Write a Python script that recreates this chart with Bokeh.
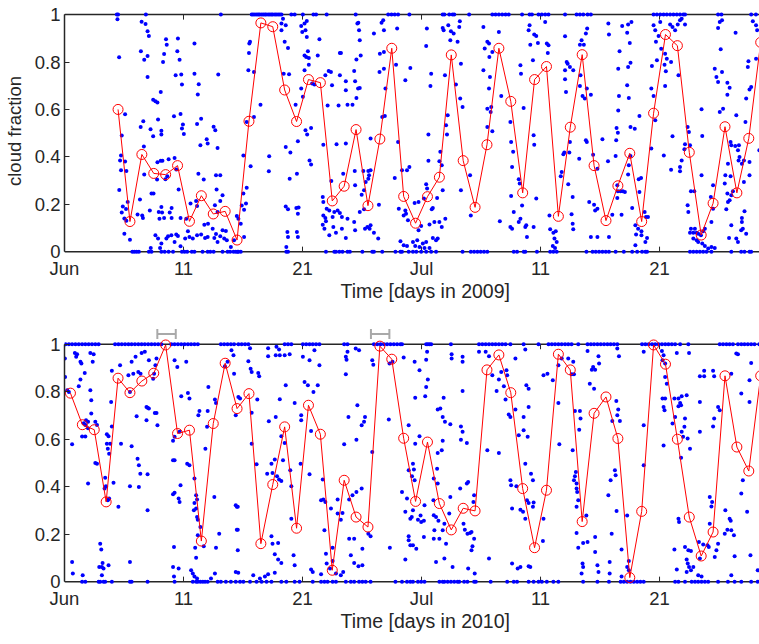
import math
from bokeh.plotting import figure
from bokeh.models import (FixedTicker, Whisker, ColumnDataSource, Title, Range1d,
                          TeeHead, Span)
from bokeh.layouts import column
from bokeh.embed import file_html
from bokeh.resources import INLINE

# ---------------- data (days since 1 June, 00:00) ----------------
x_ticks = [0, 10, 20, 30, 40, 50]
x_tick_labels = ["Jun", "11", "21", "Jul", "11", "21"]
y_ticks = [0, 0.2, 0.4, 0.6, 0.8, 1]
y_tick_labels = ["0", "0.2", "0.4", "0.6", "0.8", "1"]

# daily means 2009 (red circles), first day = 5 June
mean09_first_day = 4
mean09 = [0.60, 0.127, 0.41, 0.33, 0.325, 0.363, 0.128, 0.236, 0.159, 0.17,
          0.049, 0.55, 0.965, 0.949, 0.682, 0.549, 0.726, 0.713, 0.214, 0.276,
          0.515, 0.194, 0.475, 0.858, 0.233, 0.12, 0.232, 0.314, 0.83, 0.384,
          0.187, 0.451, 0.858, 0.634, 0.248, 0.726, 0.781, 0.149, 0.525, 0.831,
          0.363, 0.131, 0.278, 0.415, 0.127, 0.584, 0.916, 0.869, 0.419, 0.07,
          0.204, 0.527, 0.248, 0.478, 0.883]

# daily means 2010 (red circles), first day = 1 June
mean10_first_day = 0
mean10 = [0.794, 0.661, 0.640, 0.336, 0.857, 0.796, 0.845, 0.878, 0.997, 0.624,
          0.638, 0.171, 0.666, 0.92, 0.729, 0.792, 0.16, 0.409, 0.652, 0.225,
          0.743, 0.621, 0.048, 0.427, 0.272, 0.23, 0.992, 0.937, 0.604, 0.338,
          0.588, 0.329, 0.218, 0.309, 0.298, 0.892, 0.955, 0.796, 0.392, 0.143,
          0.385, 0.958, 0.892, 0.253, 0.709, 0.778, 0.603, 0.017, 0.296, 0.997,
          0.916, 0.6, 0.272, 0.108, 0.209, 0.867, 0.567, 0.466, 0.867]

# individual observations exactly overcast (1) / clear (0), 2009
ones09 = [4.4, 4.5, 6.84, 13.14, 15.73, 15.85, 16.0, 16.15, 16.28, 16.4, 16.56,
          16.7, 16.84, 16.95, 17.11, 17.25, 17.39, 17.5, 17.67, 17.8, 17.95,
          18.1, 18.23, 19.06, 19.34, 20.03, 20.92, 21.14, 22.03, 24.47, 27.2,
          27.48, 27.75, 28.03, 28.98, 31.78, 31.92, 32.33, 32.61, 32.75, 34.0,
          35.95, 36.22, 36.5, 36.78, 37.06, 37.33, 38.45, 39.08, 39.28, 39.83,
          40.11, 40.39, 40.67, 42.06, 43.03, 43.31, 43.59, 43.95, 44.23, 49.5,
          49.78, 50.06, 50.34, 50.61, 50.89, 51.17, 51.45, 51.72, 52.0, 52.14,
          54.92, 55.2, 57.7, 58.1]
zeros09 = [5.7, 5.87, 6.06, 6.25, 7.09, 7.31, 8.14, 8.42, 8.75, 9.12, 9.87,
           10.09, 10.31, 10.7, 10.92, 11.6, 12.03, 12.25, 12.53, 13.28, 13.7,
           13.92, 14.2, 14.39, 14.53, 14.61, 14.81, 18.64, 18.78, 21.97, 22.67,
           22.81, 23.09, 23.36, 23.78, 23.98, 25.03, 25.86, 26.0, 26.7, 27.81,
           28.23, 28.36, 28.92, 29.28, 29.56, 29.97, 30.39, 30.81, 31.22, 33.45,
           34.14, 34.42, 34.7, 34.97, 35.25, 35.53, 37.75, 38.03, 38.59, 38.72,
           39.7, 40.81, 41.08, 41.36, 43.86, 44.37, 44.64, 44.92, 45.2, 45.48,
           45.75, 46.31, 47.0, 47.7, 48.12, 48.53, 48.81, 48.95, 52.56, 52.84,
           53.12, 53.39, 53.67, 53.95, 54.36, 56.03, 56.86, 57.14, 57.56, 57.7]

# other individual observations 2009: (day, cloud fraction)
obs09_a = [(4.45, 0.98), (4.59, 0.82), (5.09, 0.58), (4.81, 0.49), (4.75, 0.406),
           (4.67, 0.385), (5.09, 0.38), (4.75, 0.343), (5.2, 0.34), (4.6, 0.26),
           (4.9, 0.19), (4.81, 0.165), (5.17, 0.18), (5.31, 0.21), (5.03, 0.14),
           (5.2, 0.13), (5.03, 0.076), (5.5, 0.05), (6.48, 0.97), (6.81, 0.96),
           (6.98, 0.93), (7.09, 0.91), (6.42, 0.845), (6.7, 0.81), (6.98, 0.825),
           (6.98, 0.737), (6.62, 0.55), (6.4, 0.526), (6.67, 0.444), (6.7, 0.326),
           (6.34, 0.22), (6.14, 0.157), (6.53, 0.153), (6.59, 0.142), (7.17, 0.174),
           (7.31, 0.245), (7.48, 0.245), (7.45, 0.641), (7.64, 0.634), (7.81, 0.629),
           (8.09, 0.674), (7.86, 0.557), (7.23, 0.516), (7.45, 0.487), (8.14, 0.51),
           (8.14, 0.494), (7.81, 0.377), (8.09, 0.384), (8.23, 0.384), (7.78, 0.304),
           (7.92, 0.167), (7.98, 0.139), (8.2, 0.165), (8.37, 0.142), (8.14, 0.188),
           (8.53, 0.896), (8.59, 0.873), (8.37, 0.834), (8.28, 0.8), (8.75, 0.39),
           (8.64, 0.318), (8.48, 0.305), (9.25, 0.395), (9.2, 0.571), (9.34, 0.744),
           (9.53, 0.899), (9.48, 0.845), (9.67, 0.81), (9.81, 0.747), (9.87, 0.705),
           (9.75, 0.581), (9.59, 0.262), (9.39, 0.347), (9.0, 0.184), (8.84, 0.165),
           (9.0, 0.142), (9.75, 0.142), (9.95, 0.536), (10.03, 0.496), (9.87, 0.52),
           (10.92, 0.878), (10.92, 0.75), (11.28, 0.706), (11.2, 0.663), (11.48, 0.561),
           (11.14, 0.539), (11.42, 0.449), (11.95, 0.474), (12.03, 0.456), (11.25, 0.329),
           (11.7, 0.304), (10.59, 0.203), (11.06, 0.214), (11.14, 0.193), (10.23, 0.139),
           (12.53, 0.527), (12.67, 0.512), (12.86, 0.437), (12.73, 0.322), (13.09, 0.322),
           (12.78, 0.262), (13.09, 0.214), (13.28, 0.238), (12.64, 0.196), (12.86, 0.167),
           (11.75, 0.114), (12.06, 0.118), (12.45, 0.097), (13.28, 0.09), (13.56, 0.087),
           (13.09, 0.065), (14.48, 0.15), (12.92, 0.747), (7.64, 0.069), (7.86, 0.055),
           (8.14, 0.034), (8.56, 0.055), (8.7, 0.065), (8.98, 0.069), (9.39, 0.072),
           (9.53, 0.066), (9.25, 0.041), (9.75, 0.023), (10.14, 0.055), (10.37, 0.086),
           (10.5, 0.062), (10.78, 0.055), (11.14, 0.069), (11.48, 0.072), (11.81, 0.058),
           (12.03, 0.062), (12.59, 0.058), (12.73, 0.075), (12.86, 0.041), (13.42, 0.055),
           (13.64, 0.048), (13.98, 0.02), (14.25, 0.048), (8.03, 0.015), (7.25, 0.015)]
obs09_b = [(15.59, 0.885), (15.53, 0.878), (15.5, 0.838), (15.92, 0.758), (15.45, 0.765),
           (15.92, 0.568), (15.31, 0.547), (15.03, 0.406), (15.64, 0.36), (15.31, 0.27),
           (15.03, 0.245), (15.25, 0.203), (14.89, 0.195), (15.09, 0.177), (14.61, 0.139),
           (14.81, 0.118), (15.09, 0.062), (18.23, 0.962), (18.36, 0.983), (18.59, 0.955),
           (18.23, 0.934), (18.5, 0.885), (18.78, 0.859), (18.42, 0.75), (18.87, 0.748),
           (16.47, 0.62), (17.2, 0.402), (17.17, 0.339), (18.59, 0.442), (18.98, 0.418),
           (18.92, 0.308), (19.53, 0.329), (19.61, 0.466), (19.42, 0.62), (18.59, 0.191),
           (18.78, 0.179), (19.48, 0.184), (19.67, 0.186), (19.61, 0.16), (18.73, 0.083),
           (18.78, 0.062), (19.53, 0.083), (19.61, 0.062), (18.64, 0.02), (19.89, 0.952),
           (20.17, 0.962), (20.36, 0.973), (20.25, 0.934), (19.98, 0.927), (20.36, 0.906),
           (21.42, 0.896), (20.45, 0.845), (20.17, 0.828), (20.31, 0.821), (20.53, 0.817),
           (20.17, 0.765), (20.53, 0.789), (21.28, 0.828), (19.89, 0.688), (20.03, 0.653),
           (20.39, 0.494), (20.25, 0.512), (20.72, 0.522), (20.59, 0.385), (20.72, 0.368),
           (20.81, 0.709), (21.0, 0.705), (22.2, 0.762), (22.39, 0.758), (21.92, 0.744),
           (21.75, 0.451), (22.11, 0.617), (22.48, 0.702), (23.14, 0.838), (23.23, 0.838),
           (23.14, 0.744), (23.03, 0.617), (22.86, 0.453), (22.42, 0.298), (23.42, 0.329),
           (23.64, 0.719), (23.64, 0.681), (24.34, 0.762), (24.42, 0.719), (24.53, 0.648),
           (24.67, 0.688), (24.81, 0.69), (23.78, 0.62), (24.2, 0.62), (24.69, 0.966),
           (24.61, 0.962), (24.75, 0.934), (24.81, 0.892), (24.89, 0.828), (24.53, 0.811),
           (23.64, 0.456), (24.39, 0.34), (25.11, 0.34), (25.31, 0.294), (25.17, 0.259),
           (25.53, 0.308), (25.53, 0.34), (25.72, 0.477), (26.0, 0.92), (26.64, 0.966),
           (26.78, 0.976), (26.84, 0.934), (26.5, 0.835), (26.84, 0.842), (26.47, 0.758),
           (26.84, 0.772), (26.97, 0.688), (26.7, 0.568), (26.92, 0.572), (27.86, 0.789),
           (27.95, 0.941), (29.06, 0.775), (28.64, 0.723), (28.03, 0.463), (28.36, 0.343),
           (28.78, 0.343), (28.98, 0.357), (27.75, 0.311), (25.72, 0.343), (25.59, 0.322),
           (24.42, 0.28), (26.42, 0.198), (24.81, 0.167), (25.17, 0.179), (24.97, 0.24),
           (24.34, 0.125), (24.42, 0.09), (21.7, 0.231), (21.75, 0.21), (22.03, 0.181),
           (22.25, 0.174), (22.67, 0.167), (22.95, 0.174), (23.14, 0.163), (21.75, 0.153),
           (21.92, 0.142), (21.97, 0.128), (21.7, 0.114), (21.84, 0.097), (22.53, 0.146),
           (23.31, 0.146), (23.78, 0.139), (22.59, 0.104), (23.31, 0.097), (23.64, 0.058),
           (22.25, 0.069), (22.81, 0.08), (25.25, 0.097), (25.45, 0.104), (25.64, 0.097),
           (25.72, 0.111), (26.0, 0.08), (26.36, 0.055), (28.09, 0.181), (28.5, 0.153),
           (28.7, 0.16), (28.86, 0.132), (28.64, 0.174), (28.23, 0.044), (28.5, 0.027),
           (28.78, 0.024)]
obs09_c = [(30.45, 0.941), (30.39, 0.868), (30.81, 0.751), (30.75, 0.699), (30.58, 0.494),
           (30.58, 0.383), (30.39, 0.284), (30.47, 0.266), (30.2, 0.224), (29.75, 0.21),
           (29.42, 0.205), (30.95, 0.184), (30.86, 0.179), (31.31, 0.226), (30.67, 0.115),
           (29.97, 0.108), (29.75, 0.09), (31.08, 0.125), (30.95, 0.058), (31.22, 0.048),
           (31.36, 0.055), (31.5, 0.125), (31.7, 0.104), (31.58, 0.421), (31.7, 0.364),
           (31.5, 0.381), (31.78, 0.259), (32.0, 0.139), (32.06, 0.533), (32.14, 0.494),
           (32.2, 0.575), (31.97, 0.744), (31.78, 0.944), (31.86, 0.934), (32.25, 0.955),
           (32.47, 0.93), (32.42, 0.892), (32.7, 0.92), (33.03, 0.885), (33.22, 0.972),
           (33.17, 0.948), (33.31, 0.793), (32.89, 0.705), (33.25, 0.646), (33.45, 0.61),
           (34.08, 0.322), (33.31, 0.259), (34.14, 0.153), (35.2, 0.948), (35.31, 0.857),
           (35.67, 0.878), (35.53, 0.885), (35.7, 0.821), (35.95, 0.842), (35.2, 0.765),
           (35.75, 0.737), (35.67, 0.688), (35.53, 0.603), (35.86, 0.61), (35.81, 0.589),
           (35.53, 0.526), (35.95, 0.508), (36.5, 0.927), (36.7, 0.657), (36.58, 0.128),
           (37.47, 0.547), (37.53, 0.463), (37.7, 0.421), (37.61, 0.357), (37.53, 0.235),
           (37.75, 0.167), (37.47, 0.104), (37.61, 0.097), (38.31, 0.786), (38.36, 0.751),
           (38.58, 0.606), (38.17, 0.305), (38.25, 0.287), (38.45, 0.195), (38.31, 0.139),
           (38.17, 0.125), (38.72, 0.104), (38.86, 0.062), (38.8, 0.111), (39.42, 0.491),
           (39.47, 0.451), (39.08, 0.955), (39.0, 0.934), (39.14, 0.873), (39.47, 0.916),
           (39.64, 0.91), (39.78, 0.88), (39.36, 0.807), (39.64, 0.224), (39.42, 0.104),
           (40.39, 0.969), (40.53, 0.878), (40.67, 0.871), (40.61, 0.838), (40.75, 0.153),
           (40.81, 0.094), (41.08, 0.08), (41.28, 0.086), (41.17, 0.055), (41.36, 0.041),
           (41.03, 0.024), (41.22, 0.015), (41.7, 0.318), (41.78, 0.336), (41.92, 0.411),
           (42.0, 0.418), (42.33, 0.284), (42.42, 0.418), (42.47, 0.463), (42.7, 0.231),
           (42.61, 0.158), (42.7, 0.118), (42.75, 0.094), (42.06, 0.909), (42.2, 0.8),
           (42.28, 0.793), (42.06, 0.765), (42.14, 0.674), (42.06, 0.727), (42.47, 0.779),
           (42.75, 0.765), (43.31, 0.873), (43.45, 0.892), (43.64, 0.873), (43.36, 0.744),
           (43.31, 0.699), (43.53, 0.657), (43.72, 0.646), (43.81, 0.47), (43.81, 0.92),
           (43.92, 0.941), (43.25, 0.392), (29.28, 0.041), (29.47, 0.024), (29.64, 0.048),
           (29.83, 0.02), (30.11, 0.034), (30.25, 0.015), (30.39, 0.041), (30.67, 0.015)]
obs09_d = [(43.89, 0.688), (44.23, 0.662), (43.89, 0.463), (44.42, 0.409), (44.78, 0.35),
           (44.09, 0.21), (44.5, 0.198), (44.59, 0.174), (44.78, 0.181), (44.23, 0.062),
           (44.78, 0.062), (45.75, 0.062), (45.7, 0.962), (45.75, 0.916), (45.2, 0.474),
           (45.67, 0.381), (46.03, 0.156), (46.45, 0.226), (46.5, 0.255), (46.73, 0.255),
           (46.92, 0.255), (47.09, 0.252), (46.45, 0.28), (46.39, 0.522), (46.5, 0.502),
           (46.36, 0.47), (46.31, 0.404), (46.59, 0.657), (46.53, 0.596), (46.53, 0.772),
           (46.64, 0.845), (46.86, 0.952), (47.36, 0.958), (47.64, 0.969), (47.28, 0.924),
           (47.5, 0.88), (47.56, 0.797), (47.36, 0.779), (47.28, 0.702), (47.42, 0.648),
           (47.56, 0.526), (47.92, 0.519), (48.31, 0.572), (47.42, 0.364), (47.56, 0.404),
           (47.36, 0.325), (48.25, 0.305), (48.45, 0.311), (48.31, 0.252), (46.81, 0.156),
           (47.7, 0.184), (47.97, 0.111), (48.2, 0.097), (48.48, 0.086), (48.75, 0.167),
           (48.86, 0.146), (49.03, 0.146), (48.03, 0.072), (48.48, 0.069), (48.95, 0.058),
           (47.97, 0.027), (48.81, 0.041), (49.31, 0.435), (49.5, 0.657), (49.31, 0.688),
           (49.36, 0.783), (49.64, 0.554), (49.78, 0.807), (49.7, 0.885), (49.5, 0.955),
           (49.64, 0.934), (50.06, 0.969), (49.92, 0.91), (50.47, 0.835), (50.61, 0.814),
           (50.42, 0.789), (50.53, 0.761), (50.97, 0.8), (50.47, 0.699), (50.36, 0.406),
           (50.14, 0.856), (50.89, 0.958), (51.09, 0.948), (51.31, 0.934), (51.53, 0.958),
           (51.72, 0.976), (51.86, 0.983), (52.14, 0.958), (51.09, 0.487), (51.59, 0.744),
           (50.97, 0.346), (51.72, 0.357), (51.86, 0.385), (51.72, 0.339), (52.09, 0.432),
           (52.14, 0.453), (52.36, 0.526), (52.47, 0.505), (52.56, 0.449), (52.64, 0.255),
           (52.92, 0.255), (53.53, 0.601), (53.59, 0.488), (53.53, 0.322), (52.36, 0.196),
           (52.42, 0.167), (52.64, 0.097), (52.56, 0.08), (52.84, 0.08), (52.97, 0.097),
           (53.12, 0.08), (53.25, 0.076), (53.48, 0.069), (53.67, 0.086), (53.81, 0.097),
           (52.84, 0.055), (53.12, 0.048), (53.25, 0.041), (53.59, 0.034), (53.81, 0.024),
           (54.09, 0.013), (54.36, 0.02), (54.64, 0.015), (54.36, 0.125), (54.5, 0.181),
           (54.31, 0.231), (54.5, 0.28), (54.64, 0.772), (54.78, 0.737), (54.92, 0.716),
           (55.25, 0.758), (55.14, 0.854), (54.92, 0.944), (55.06, 0.969), (55.25, 0.976),
           (55.06, 0.589), (55.34, 0.603), (55.7, 0.713), (55.89, 0.691), (55.7, 0.662),
           (55.97, 0.463), (56.39, 0.924), (56.45, 0.575), (56.03, 0.449), (56.36, 0.446),
           (56.67, 0.449), (56.59, 0.428), (56.64, 0.385), (56.72, 0.399), (55.75, 0.371),
           (55.97, 0.318), (55.53, 0.322), (55.48, 0.287), (55.7, 0.245), (55.89, 0.217),
           (56.03, 0.238), (56.17, 0.255), (55.75, 0.21), (55.61, 0.179), (56.92, 0.371),
           (57.09, 0.294), (57.28, 0.646), (57.22, 0.547), (57.09, 0.385), (57.56, 0.684),
           (57.7, 0.695), (57.42, 0.779), (57.47, 0.803), (58.11, 0.814), (57.84, 0.972),
           (58.11, 0.955), (58.2, 0.934), (57.14, 0.17), (56.92, 0.125), (57.0, 0.097),
           (57.28, 0.076), (56.86, 0.09), (56.03, 0.111), (56.45, 0.055), (56.59, 0.041),
           (55.84, 0.058), (56.92, 0.142), (57.56, 0.378), (57.56, 0.322), (58.39, 0.428)]

ones10 = [0.09, 0.37, 0.64, 0.92, 1.2, 1.48, 1.75, 2.03, 2.31, 2.59, 2.87, 4.25,
          4.53, 4.81, 5.09, 5.37, 5.64, 5.92, 6.2, 6.48, 6.75, 7.03, 7.31, 7.59,
          7.87, 8.14, 8.98, 9.25, 9.53, 9.81, 10.09, 10.37, 10.64, 10.92, 11.2,
          13.14, 13.42, 13.7, 13.98, 14.25, 14.61, 14.89, 15.17, 15.45, 18.5,
          18.78, 19.06, 20.03, 20.31, 20.59, 20.86, 21.14, 21.42, 23.5, 23.78,
          26.0, 26.28, 26.56, 26.84, 27.11, 27.39, 27.67, 27.95, 28.23, 28.36,
          30.39, 30.53, 30.67, 30.81, 32.47, 34.83, 35.11, 35.39, 35.67, 35.95,
          36.22, 36.5, 36.78, 37.06, 37.47, 38.58, 39.83, 40.67, 40.95, 41.22,
          41.5, 41.78, 42.06, 42.33, 42.61, 43.17, 43.95, 44.23, 44.5, 44.78,
          45.06, 45.34, 45.62, 45.89, 46.17, 46.45, 48.53, 48.81, 49.09, 49.37,
          49.64, 49.92, 50.2, 50.48, 50.75, 51.03, 51.31, 51.73, 52.42, 55.06,
          55.34, 55.62, 55.89, 56.17, 56.59, 56.87, 57.14, 57.42, 57.7, 57.98, 58.39]
zeros10 = [1.48, 1.75, 2.87, 3.0, 3.28, 3.42, 3.98, 5.5, 5.64, 6.98, 9.25, 10.78,
           11.06, 11.2, 11.42, 11.62, 11.81, 12.03, 12.87, 13.14, 13.56, 13.98,
           14.39, 14.75, 15.03, 15.59, 16.14, 16.56, 16.98, 17.39, 18.22, 18.64,
           19.34, 19.75, 20.86, 21.56, 21.84, 22.11, 22.53, 22.81, 23.64, 24.06,
           24.34, 24.75, 25.03, 25.31, 25.72, 27.81, 28.36, 28.78, 29.06, 29.28,
           29.7, 29.97, 30.25, 31.5, 31.78, 31.92, 32.2, 32.47, 32.75, 33.03,
           33.17, 33.58, 33.86, 34.42, 34.56, 35.81, 37.2, 37.75, 38.03, 39.0,
           39.42, 39.83, 40.11, 40.53, 41.08, 41.5, 43.58, 44.78, 45.75, 46.73,
           47.0, 47.28, 47.56, 47.84, 48.12, 48.39, 48.67, 51.31, 51.59, 52.14,
           52.7, 52.98, 53.25, 53.53, 53.81, 54.09, 54.92, 55.75, 56.31, 56.87,
           57.7, 58.25]

obs10_a = [(0.03, 0.94), (0.05, 0.862), (0.23, 0.806), (0.37, 0.799), (0.87, 0.963),
           (1.06, 0.958), (0.98, 0.947), (1.34, 0.926), (1.42, 0.919), (1.7, 0.879),
           (1.34, 0.851), (1.2, 0.823), (2.17, 0.806), (2.25, 0.764), (2.25, 0.708),
           (2.37, 0.926), (2.17, 0.963), (2.45, 0.958), (1.81, 0.68), (1.98, 0.674),
           (1.62, 0.667), (1.75, 0.66), (1.98, 0.646), (1.75, 0.611), (1.48, 0.611),
           (2.59, 0.674), (2.73, 0.66), (0.64, 0.579), (2.59, 0.5), (2.73, 0.497),
           (1.98, 0.413), (3.56, 0.621), (3.7, 0.612), (3.56, 0.581), (3.84, 0.581),
           (3.64, 0.56), (3.75, 0.539), (3.98, 0.654), (3.42, 0.438), (3.48, 0.402),
           (3.37, 0.392), (3.64, 0.343), (3.75, 0.35), (4.12, 0.417), (3.92, 0.757),
           (3.98, 0.888), (4.75, 0.581), (4.67, 0.912), (4.53, 0.315), (5.64, 0.926),
           (5.97, 0.947), (5.37, 0.869), (5.78, 0.876), (6.2, 0.883), (6.39, 0.876),
           (5.5, 0.799), (6.06, 0.697), (5.64, 0.57), (6.14, 0.518), (6.25, 0.49),
           (5.5, 0.402), (6.25, 0.399), (6.37, 0.455), (6.98, 0.452), (6.48, 0.963),
           (6.75, 0.968), (7.09, 0.933), (7.73, 0.94), (7.64, 0.912), (6.89, 0.736),
           (7.09, 0.729), (6.98, 0.733), (7.59, 0.71), (7.73, 0.71), (6.89, 0.68),
           (7.81, 0.659), (6.98, 0.301), (7.53, 0.876), (7.45, 0.855), (9.25, 0.933),
           (9.48, 0.904), (9.81, 0.781), (9.12, 0.593), (9.25, 0.61), (9.12, 0.511),
           (9.25, 0.511), (9.67, 0.631), (9.25, 0.374), (9.12, 0.368), (9.59, 0.35),
           (9.67, 0.336), (9.75, 0.406), (9.2, 0.146), (9.12, 0.062), (9.59, 0.055),
           (10.23, 0.926), (10.37, 0.795), (10.5, 0.771), (10.31, 0.497), (10.5, 0.49),
           (10.92, 0.434), (11.06, 0.364), (11.14, 0.346), (10.92, 0.331), (10.87, 0.301),
           (11.06, 0.308), (11.14, 0.272), (11.2, 0.261), (11.2, 0.195), (11.42, 0.23),
           (10.98, 0.143), (11.7, 0.149), (11.06, 0.101), (11.84, 0.56), (11.98, 0.652),
           (11.25, 0.701), (11.34, 0.719), (12.03, 0.719), (12.09, 0.82), (12.59, 0.357),
           (12.64, 0.767), (12.73, 0.143), (13.0, 0.202), (12.73, 0.753), (13.48, 0.907),
           (13.7, 0.926), (14.03, 0.975), (14.2, 0.954), (14.25, 0.876), (14.39, 0.322),
           (14.48, 0.315), (14.48, 0.219), (14.39, 0.701), (0.64, 0.083), (0.7, 0.034),
           (1.53, 0.027), (3.0, 0.16), (3.09, 0.135), (2.92, 0.062), (3.14, 0.062),
           (3.28, 0.055), (3.2, 0.079), (3.7, 0.069), (3.14, 0.027), (5.5, 0.083),
           (9.2, 0.022), (10.64, 0.048), (10.78, 0.034), (10.92, 0.022), (11.14, 0.013),
           (12.31, 0.013), (12.64, 0.034), (14.39, 0.041)]
obs10_b = [(15.59, 0.983), (17.11, 0.983), (17.11, 0.949), (17.81, 0.989), (18.03, 0.978),
           (17.75, 0.954), (18.09, 0.954), (18.5, 0.954), (18.92, 0.958), (15.45, 0.928),
           (15.64, 0.897), (15.73, 0.883), (16.28, 0.879), (16.36, 0.865), (20.03, 0.947),
           (20.59, 0.933), (21.0, 0.975), (21.42, 0.912), (20.17, 0.841), (20.45, 0.827),
           (20.92, 0.799), (21.28, 0.827), (18.59, 0.827), (18.09, 0.768), (14.61, 0.778),
           (14.75, 0.771), (16.2, 0.767), (15.73, 0.711), (19.34, 0.753), (19.89, 0.701),
           (19.89, 0.68), (17.75, 0.694), (17.17, 0.676), (18.22, 0.612), (18.5, 0.584),
           (20.72, 0.635), (15.73, 0.581), (16.14, 0.494), (17.39, 0.497), (17.67, 0.514),
           (18.36, 0.511), (17.03, 0.455), (17.48, 0.458), (17.86, 0.444), (18.03, 0.43),
           (18.22, 0.424), (18.97, 0.469), (19.06, 0.402), (19.84, 0.497), (20.59, 0.452),
           (14.56, 0.315), (14.56, 0.219), (14.56, 0.132), (14.6, 0.037), (17.39, 0.191),
           (17.48, 0.16), (17.95, 0.163), (17.67, 0.115), (17.95, 0.093), (18.22, 0.079),
           (19.06, 0.265), (19.25, 0.111), (19.34, 0.069), (20.72, 0.051), (20.86, 0.041),
           (21.7, 0.43), (21.75, 0.346), (21.56, 0.343), (21.92, 0.336), (21.84, 0.216),
           (22.39, 0.308), (22.95, 0.346), (22.95, 0.287), (23.22, 0.261), (23.36, 0.289),
           (23.92, 0.346), (24.2, 0.364), (24.53, 0.378), (24.97, 0.392), (23.5, 0.579),
           (23.86, 0.694), (24.61, 0.743), (24.53, 0.598), (24.97, 0.659), (25.17, 0.673),
           (25.25, 0.694), (25.86, 0.546), (23.64, 0.947), (23.78, 0.968), (23.7, 0.935),
           (23.64, 0.874), (24.47, 0.982), (24.75, 0.975), (25.86, 0.933), (25.95, 0.914),
           (27.31, 0.919), (27.56, 0.926), (27.25, 0.683), (28.5, 0.944), (28.92, 0.659),
           (28.92, 0.469), (28.36, 0.378), (28.78, 0.35), (28.64, 0.294), (29.06, 0.265),
           (28.92, 0.191), (28.92, 0.174), (29.06, 0.153), (28.64, 0.093), (27.34, 0.143),
           (23.92, 0.181), (24.34, 0.181), (25.03, 0.139), (25.53, 0.202), (25.72, 0.191),
           (24.06, 0.111), (24.34, 0.079), (24.7, 0.065), (25.03, 0.069), (21.97, 0.118),
           (22.03, 0.076), (22.31, 0.055), (22.53, 0.087), (22.81, 0.034), (23.22, 0.027),
           (23.42, 0.041), (22.53, 0.143), (21.56, 0.031), (15.86, 0.027), (16.42, 0.013),
           (16.84, 0.022), (17.11, 0.031), (17.67, 0.037)]
obs10_c = [(30.47, 0.968), (29.42, 0.926), (30.39, 0.935), (29.83, 0.89), (30.53, 0.851),
           (30.39, 0.82), (30.31, 0.781), (29.47, 0.775), (31.86, 0.775), (31.36, 0.725),
           (31.58, 0.729), (31.78, 0.694), (31.97, 0.673), (32.53, 0.958), (32.53, 0.94),
           (33.45, 0.947), (33.45, 0.926), (33.45, 0.803), (32.42, 0.663), (33.31, 0.654),
           (33.45, 0.631), (33.81, 0.584), (33.31, 0.598), (31.78, 0.593), (31.7, 0.553),
           (31.36, 0.542), (29.83, 0.612), (29.47, 0.581), (29.28, 0.497), (29.36, 0.472),
           (29.2, 0.444), (29.42, 0.427), (31.31, 0.476), (31.03, 0.434), (31.36, 0.413),
           (30.25, 0.322), (29.92, 0.279), (29.97, 0.251), (30.2, 0.256), (29.7, 0.261),
           (29.28, 0.301), (29.18, 0.272), (31.0, 0.343), (31.03, 0.28), (31.22, 0.272),
           (31.42, 0.256), (31.08, 0.216), (31.5, 0.181), (31.03, 0.181), (30.2, 0.188),
           (29.28, 0.153), (29.56, 0.139), (31.78, 0.216), (31.92, 0.244), (32.42, 0.357),
           (32.33, 0.287), (32.06, 0.16), (33.25, 0.392), (33.53, 0.244), (33.81, 0.413),
           (33.92, 0.42), (34.36, 0.336), (34.42, 0.364), (33.64, 0.219), (33.86, 0.202),
           (34.08, 0.205), (34.2, 0.209), (34.42, 0.181), (34.28, 0.149), (34.2, 0.132),
           (31.22, 0.083), (31.92, 0.097), (32.61, 0.062), (33.92, 0.055), (34.47, 0.034),
           (35.67, 0.097), (35.53, 0.553), (36.5, 0.542), (34.83, 0.968), (35.39, 0.968),
           (35.67, 0.949), (35.95, 0.869), (36.5, 0.851), (36.7, 0.883), (37.14, 0.89),
           (37.2, 0.869), (36.31, 0.803), (36.92, 0.823), (37.06, 0.767), (37.33, 0.704),
           (37.47, 0.694), (37.89, 0.725), (37.89, 0.94), (38.72, 0.978), (38.81, 0.827),
           (39.0, 0.813), (39.0, 0.736), (38.58, 0.694), (38.58, 0.638), (38.92, 0.61),
           (38.17, 0.617), (38.72, 0.497), (39.2, 0.455), (39.36, 0.427), (37.47, 0.427),
           (37.53, 0.406), (37.97, 0.402), (38.86, 0.343), (39.0, 0.331), (39.42, 0.333),
           (39.36, 0.315), (37.61, 0.308), (38.31, 0.303), (38.53, 0.294), (38.72, 0.265),
           (40.25, 0.265), (37.61, 0.076), (38.08, 0.055), (38.31, 0.062), (39.0, 0.065),
           (39.14, 0.062), (40.2, 0.171), (40.25, 0.869), (40.58, 0.876), (41.03, 0.848),
           (41.5, 0.753), (41.58, 0.579), (41.5, 0.912), (41.78, 0.94), (42.33, 0.94),
           (42.75, 0.926), (42.61, 0.874), (42.81, 0.874), (42.89, 0.719), (43.31, 0.719),
           (43.36, 0.687), (43.25, 0.64), (42.7, 0.553), (42.97, 0.462), (42.89, 0.444),
           (42.81, 0.427), (43.03, 0.413), (43.03, 0.392), (43.08, 0.378), (43.17, 0.343),
           (43.03, 0.315), (43.58, 0.163), (43.03, 0.205), (43.17, 0.143), (43.53, 0.076),
           (43.58, 0.062), (43.45, 0.034)]
obs10_d = [(43.95, 0.972), (44.87, 0.949), (44.92, 0.919), (46.59, 0.949), (46.45, 0.982),
           (44.42, 0.904), (44.31, 0.893), (44.59, 0.893), (44.14, 0.834), (44.5, 0.813),
           (48.67, 0.968), (50.2, 0.972), (50.34, 0.954), (50.25, 0.933), (50.47, 0.919),
           (51.45, 0.963), (52.48, 0.963), (50.47, 0.862), (50.61, 0.834), (50.25, 0.771),
           (50.47, 0.771), (50.34, 0.736), (50.42, 0.722), (51.25, 0.771), (51.59, 0.771),
           (51.86, 0.781), (51.73, 0.753), (51.59, 0.739), (51.81, 0.743), (52.28, 0.785),
           (52.14, 0.687), (52.09, 0.652), (51.86, 0.631), (51.98, 0.61), (52.36, 0.603),
           (52.56, 0.56), (53.39, 0.865), (53.75, 0.888), (53.75, 0.865), (53.39, 0.757),
           (53.39, 0.631), (54.5, 0.888), (54.59, 0.865), (54.5, 0.654), (54.59, 0.687),
           (54.92, 0.736), (55.06, 0.722), (56.87, 0.792), (57.56, 0.848), (57.7, 0.921),
           (57.56, 0.757), (56.03, 0.876), (56.45, 0.961), (56.59, 0.958), (51.31, 0.694),
           (51.09, 0.666), (48.67, 0.659), (48.67, 0.49), (50.34, 0.574), (51.81, 0.522),
           (46.37, 0.761), (46.53, 0.725), (46.67, 0.677), (46.45, 0.701), (46.03, 0.677),
           (46.25, 0.469), (46.31, 0.448), (45.89, 0.427), (45.7, 0.364), (46.39, 0.298),
           (47.28, 0.279), (45.98, 0.202), (43.85, 0.279), (43.95, 0.167), (44.59, 0.188),
           (44.59, 0.125), (45.81, 0.083), (46.81, 0.135), (47.28, 0.062), (47.42, 0.048),
           (44.78, 0.069), (44.87, 0.041), (45.81, 0.034), (46.81, 0.022), (51.25, 0.135),
           (51.59, 0.265), (51.64, 0.251), (52.14, 0.146), (52.42, 0.132), (52.28, 0.093),
           (52.37, 0.076), (52.48, 0.062), (51.45, 0.051), (52.28, 0.041), (52.64, 0.129),
           (53.31, 0.167), (53.67, 0.157), (54.03, 0.153), (54.14, 0.146), (53.39, 0.097),
           (54.22, 0.357), (54.42, 0.336), (54.36, 0.317), (54.22, 0.244), (54.64, 0.104),
           (54.78, 0.132), (54.92, 0.16), (55.53, 0.301), (55.89, 0.265), (55.98, 0.256),
           (55.48, 0.202), (55.7, 0.219), (56.03, 0.216), (56.25, 0.195), (56.31, 0.107),
           (57.64, 0.111), (56.03, 0.027), (57.0, 0.427), (56.87, 0.371), (57.36, 0.294),
           (58.25, 0.048), (52.64, 0.048), (52.84, 0.062), (53.25, 0.027), (53.53, 0.022),
           (47.42, 0.087)]

# grey interval markers above the 2010 panel (start day, end day)
gap_start = [7.8, 25.75]
gap_end = [9.35, 27.3]

# ---------------- styling ----------------
FONT = "Liberation Sans"
FS = "18.5px"
FS_XLABEL = "19.5px"
INK = "#262626"
GREY = "#a9a9a9"
X_END = 58.4
FIG_W = 759
LEFT = 58
Y_LOW = -0.012       # a little room so dots at 0 are not cut in half
GAP_LEVEL = 1.043    # height of the grey interval markers


def style_axis(ax, ticks, labels):
    ax.ticker = FixedTicker(ticks=ticks)
    ax.major_label_overrides = {t: l for t, l in zip(ticks, labels)}
    ax.minor_tick_line_color = None
    ax.major_label_text_font = FONT
    ax.major_label_text_font_size = FS
    ax.major_label_text_color = INK
    ax.axis_label_text_font = FONT
    ax.axis_label_text_font_size = FS
    ax.axis_label_text_font_style = "normal"
    ax.axis_label_text_color = INK


def panel(ones, zeros, obs_parts, mean_first, means, xlabel, ylabel,
          height, top, bottom, y_high, x_range):
    p = figure(width=FIG_W, height=height, output_backend="svg",
               toolbar_location=None, x_range=x_range,
               y_range=Range1d(Y_LOW, y_high),
               min_border_left=LEFT, min_border_right=0,
               min_border_top=top, min_border_bottom=bottom)
    p.outline_line_color = None
    p.grid.visible = False

    # x axis: labels only; the box line and ticks are drawn below
    xa = p.xaxis[0]
    style_axis(xa, x_ticks, x_tick_labels)
    xa.axis_line_color = None
    xa.major_tick_line_color = None
    xa.major_tick_in = 0
    xa.major_tick_out = 0
    xa.major_label_standoff = 3

    ya = p.yaxis[0]
    style_axis(ya, y_ticks, y_tick_labels)
    ya.bounds = (0, 1)
    ya.axis_line_color = INK
    ya.axis_line_width = 1.5
    ya.major_tick_line_color = INK
    ya.major_tick_in = 5
    ya.major_tick_out = 0
    ya.major_label_standoff = 4
    if ylabel:
        ya.axis_label = ylabel
        ya.axis_label_standoff = 7

    # box lines at 0 and 1 with inward ticks
    for loc in (0, 1):
        p.add_layout(Span(location=loc, dimension="width", line_color=INK,
                          line_width=1.5, level="underlay"))
    p.ray(x=x_ticks, y=[0] * len(x_ticks), length=5, length_units="screen",
          angle=math.pi / 2, line_color=INK, line_width=1)
    p.ray(x=x_ticks, y=[1] * len(x_ticks), length=5, length_units="screen",
          angle=-math.pi / 2, line_color=INK, line_width=1)

    xs, ys = [], []
    for part in obs_parts:
        for d, v in part:
            xs.append(d)
            ys.append(v)
    xs += ones + zeros
    ys += [1.0] * len(ones) + [0.0] * len(zeros)
    p.scatter(xs, ys, size=4, marker="circle", fill_color="#0000ff",
              line_color=None)

    mdays = [mean_first + i + 0.5 for i in range(len(means))]
    p.line(mdays, means, line_color="#ff0000", line_width=1)
    p.scatter(mdays, means, size=10, marker="circle", fill_color=None,
              line_color="#ff0000", line_width=1)

    t = Title(text=xlabel, align="left", offset=276, text_font=FONT,
              text_font_size=FS_XLABEL, text_font_style="normal",
              text_color=INK, standoff=-7)
    p.add_layout(t, "below")
    return p


xr = Range1d(0, X_END)
p1 = panel(ones09, zeros09, [obs09_a, obs09_b, obs09_c, obs09_d],
           mean09_first_day, mean09, "Time [days in 2009]", "cloud fraction",
           302, 7, 48, 1.03, xr)

p2 = panel(ones10, zeros10, [obs10_a, obs10_b, obs10_c, obs10_d],
           mean10_first_day, mean10, "Time [days in 2010]", None,
           334, 18, 52, 1.1, xr)

wsrc = ColumnDataSource(dict(lo=gap_start, hi=gap_end,
                             base=[GAP_LEVEL] * len(gap_start)))
p2.add_layout(Whisker(source=wsrc, base="base", lower="lo", upper="hi",
                      dimension="width", line_color=GREY, line_width=2,
                      upper_head=TeeHead(size=10, line_color=GREY, line_width=2),
                      lower_head=TeeHead(size=10, line_color=GREY, line_width=2)))

layout = column(p1, p2, spacing=0)
open("out.html", "w").write(file_html(layout, INLINE))
